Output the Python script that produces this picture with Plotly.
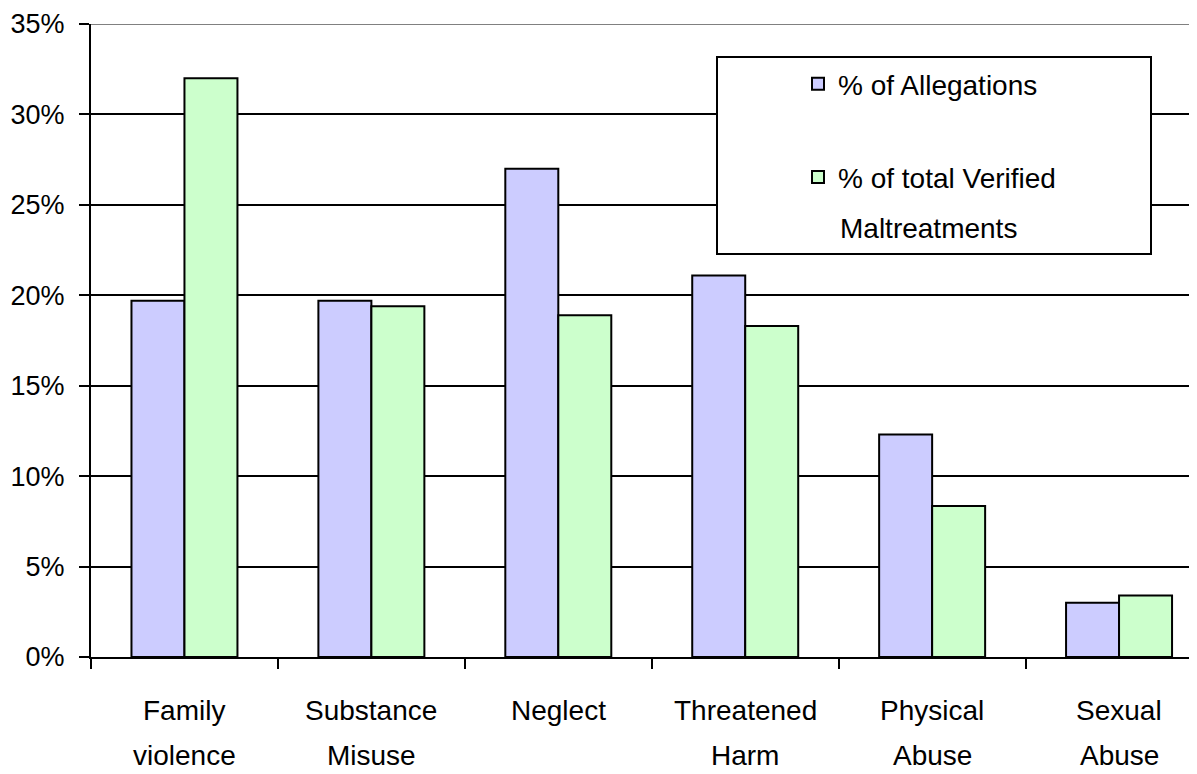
import plotly.graph_objects as go

categories = ["Family violence", "Substance Misuse", "Neglect", "Threatened Harm", "Physical Abuse", "Sexual Abuse"]
label_line1 = ["Family", "Substance", "Neglect", "Threatened", "Physical", "Sexual"]
label_line2 = ["violence", "Misuse", "", "Harm", "Abuse", "Abuse"]
allegations = [19.7, 19.7, 27.0, 21.1, 12.3, 3.0]
verified = [32.0, 19.4, 18.9, 18.3, 8.35, 3.4]
series_names = ["% of Allegations", "% of total Verified"]
series2_cont = "Maltreatments"
y_ticks = [0, 5, 10, 15, 20, 25, 30, 35]
y_ticktext = [f"{v}%" for v in y_ticks]

FONT = "Liberation Sans, Arial, sans-serif"
FS = 28

# page body has an 8px default margin: figure placed at (8, 8)
OFF = 8
W, H = 1197 - OFF, 774 - OFF
L, R, T, B = 91 - OFF, 0, 24 - OFF, 774 - 657
PW, PH = W - L - R, H - T - B


def px_x(x):
    return (x - OFF - L) / PW


def px_y(y):
    return (H - B - (y - OFF)) / PH


fig = go.Figure()
fig.add_trace(go.Bar(x=categories, y=allegations, name=series_names[0],
                     marker=dict(color="#CCCCFF", line=dict(color="black", width=2)),
                     legendgroup="a"))
fig.add_trace(go.Bar(x=categories, y=verified, name=series_names[1],
                     marker=dict(color="#CCFFCC", line=dict(color="black", width=2)),
                     legendgroup="b"))

annotations = []
for c, l1, l2 in zip(categories, label_line1, label_line2):
    annotations.append(dict(x=c, xref="x", y=0, yref="paper", text=l1, showarrow=False,
                            yanchor="middle", yshift=-53, font=dict(size=FS, color="black", family=FONT)))
    if l2:
        annotations.append(dict(x=c, xref="x", y=0, yref="paper", text=l2, showarrow=False,
                                yanchor="middle", yshift=-98, font=dict(size=FS, color="black", family=FONT)))
annotations.append(dict(x=px_x(838), xref="paper", y=px_y(228), yref="paper", text=series2_cont,
                        showarrow=False, xanchor="left", yanchor="middle",
                        font=dict(size=FS, color="black", family=FONT)))

fig.update_layout(
    width=W, height=H,
    margin=dict(l=L, r=R, t=T, b=B, autoexpand=False),
    paper_bgcolor="white", plot_bgcolor="white",
    barmode="group", bargap=0.433, bargroupgap=0,
    font=dict(family=FONT, size=FS, color="black"),
    showlegend=True,
    legend=dict(x=px_x(798), y=px_y(59), xanchor="left", yanchor="top",
                bgcolor="rgba(0,0,0,0)", borderwidth=0,
                traceorder="grouped", tracegroupgap=54,
                font=dict(size=FS, family=FONT, color="black")),
    annotations=annotations,
    shapes=[
        dict(type="line", xref="paper", yref="y", x0=0, x1=1, y0=35, y1=35,
             line=dict(color="#808080", width=2), layer="above"),
        dict(type="rect", xref="paper", yref="paper",
             x0=px_x(717), x1=px_x(1151), y0=px_y(254), y1=px_y(57),
             line=dict(color="black", width=2), fillcolor="white", layer="above"),
    ],
)

fig.update_xaxes(
    type="category", range=[-0.5, 5.417], automargin=False,
    showline=True, linecolor="black", linewidth=2,
    ticks="outside", tickson="boundaries", ticklen=10, tickwidth=2, tickcolor="black",
    showticklabels=False, showgrid=False, zeroline=False,
)
fig.update_yaxes(
    range=[0, 35], tickvals=y_ticks, ticktext=y_ticktext, automargin=False,
    showline=True, linecolor="black", linewidth=2,
    ticks="outside", ticklen=10, tickwidth=2, tickcolor="black",
    showgrid=True, gridcolor="black", gridwidth=2, zeroline=False,
    tickfont=dict(size=27, family=FONT, color="black"),
    ticklabelstandoff=9,
)

fig.write_html("out.html")
